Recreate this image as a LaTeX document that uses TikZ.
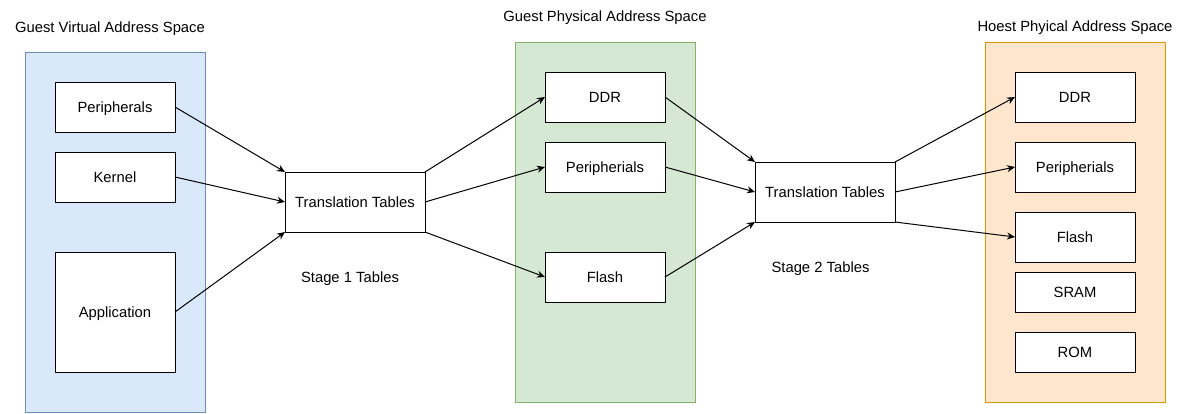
\documentclass[tikz,border=0pt]{standalone}
\usepackage{fontspec}
\setmainfont{Liberation Sans}
\usetikzlibrary{arrows.meta}
\definecolor{bluefill}{HTML}{DAE8FC}
\definecolor{bluedraw}{HTML}{6C8EBF}
\definecolor{greenfill}{HTML}{D5E8D4}
\definecolor{greendraw}{HTML}{82B366}
\definecolor{orangefill}{HTML}{FFE6CC}
\definecolor{orangedraw}{HTML}{D79B00}
\tikzset{
  panel/.style={draw, line width=1pt, inner sep=0pt, outer sep=0pt, minimum width=180pt, minimum height=360pt},
  box/.style={draw=black, fill=white, line width=1pt, inner sep=0pt, outer sep=0pt, minimum width=120pt, text height=10.6pt, text depth=0pt, font=\fontsize{14.8pt}{17pt}\selectfont},
  ttbox/.style={box, minimum width=140pt, minimum height=60pt},
  lbl/.style={inner sep=0pt, text height=10.6pt, text depth=0pt, font=\fontsize{14.8pt}{17pt}\selectfont},
  arr/.style={line width=1pt, -{Stealth[length=8pt,width=7pt]}}
}
\begin{document}
\begin{tikzpicture}[x=1pt,y=-1pt]
\useasboundingbox (0,0) rectangle (1186,413);
% panels
\node[panel, draw=bluedraw, fill=bluefill] (gv) at (115,232) {};
\node[panel, draw=greendraw, fill=greenfill] (gp) at (605,222) {};
\node[panel, draw=orangedraw, fill=orangefill] (hp) at (1075,222) {};
% titles
\node[lbl] (gvt) at (110,27.5) {Guest Virtual Address Space};
\node[lbl] (gpt) at (605,15.8) {Guest Physical Address Space};
\node[lbl] (hpt) at (1075,25.8) {Hoest Phyical Address Space};
% left boxes
\node[box, minimum height=50pt] (vper) at (115,107) {Peripherals};
\node[box, minimum height=50pt] (vker) at (115,177) {Kernel};
\node[box, minimum height=120pt] (vapp) at (115,312) {Application};
% stage 1
\node[ttbox] (tt1) at (355,202) {Translation Tables};
\node[lbl] (s1) at (350,277.5) {Stage 1 Tables};
% middle boxes
\node[box, minimum height=50pt] (gddr) at (605,97) {DDR};
\node[box, minimum height=50pt] (gper) at (605,167) {Peripherials};
\node[box, minimum height=50pt] (gfl) at (605,277) {Flash};
% stage 2
\node[ttbox] (tt2) at (825,192) {Translation Tables};
\node[lbl] (s2) at (820.5,267.5) {Stage 2 Tables};
% right boxes
\node[box, minimum height=50pt] (hddr) at (1075,97) {DDR};
\node[box, minimum height=50pt] (hper) at (1075,167) {Peripherials};
\node[box, minimum height=50pt] (hfl) at (1075,237) {Flash};
\node[box, minimum height=40pt] (hsr) at (1075,292) {SRAM};
\node[box, minimum height=40pt] (hrom) at (1075,352) {ROM};
% connectors
\draw[arr] (vper.east) -- (tt1.north west);
\draw[arr] (vker.east) -- (tt1.west);
\draw[arr] (vapp.east) -- (tt1.south west);
\draw[arr] (tt1.north east) -- (gddr.west);
\draw[arr] (tt1.east) -- (gper.west);
\draw[arr] (tt1.south east) -- (gfl.west);
\draw[arr] (gddr.east) -- (tt2.north west);
\draw[arr] (gper.east) -- (tt2.west);
\draw[arr] (gfl.east) -- (tt2.south west);
\draw[arr] (tt2.north east) -- (hddr.west);
\draw[arr] (tt2.east) -- (hper.west);
\draw[arr] (tt2.south east) -- (hfl.west);
\end{tikzpicture}
\end{document}
